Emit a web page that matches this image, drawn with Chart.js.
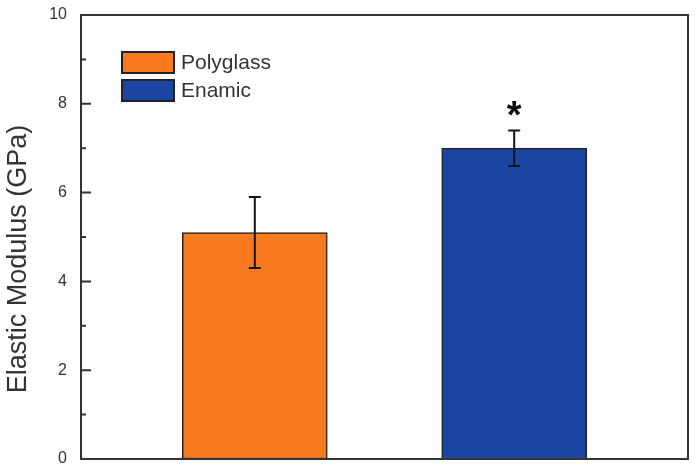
<!DOCTYPE html>
<html><head><meta charset="utf-8">
<script src="https://cdn.jsdelivr.net/npm/chart.js@4"></script>
<style>html,body{margin:0;padding:0;background:#fff}#wrap{width:696px;height:464px}</style>
</head><body><div id="wrap"><canvas id="c" width="696" height="464"></canvas></div>
<script>
const categories = ['Polyglass', 'Enamic'];
const modulus = [5.1, 7.0];
const errors = [0.8, 0.4];
const significance = ['', '*'];
const yTickLabels = [0, 2, 4, 6, 8, 10];
const yMinorTicks = [1, 3, 5, 7, 9];
const barColors = ['#F97A1E', '#1B45A2'];
const axisTitle = 'Elastic Modulus (GPa)';

const FONT = "'Liberation Sans', Arial, sans-serif";
const TEXT = '#333333';

const decor = {
  id: 'decor',
  afterDatasetsDraw(chart) {
    const ctx = chart.ctx, xs = chart.scales.x, ys = chart.scales.y, a = chart.chartArea;
    ctx.save();
    // error bars + significance marks
    ctx.strokeStyle = '#151515'; ctx.lineWidth = 2;
    modulus.forEach((v, i) => {
      const px = xs.getPixelForValue(i + 1);
      const top = ys.getPixelForValue(v + errors[i]);
      const bot = ys.getPixelForValue(v - errors[i]);
      ctx.beginPath();
      ctx.moveTo(px, top); ctx.lineTo(px, bot);
      ctx.moveTo(px - 6, top); ctx.lineTo(px + 6, top);
      ctx.moveTo(px - 6, bot); ctx.lineTo(px + 6, bot);
      ctx.stroke();
      if (significance[i]) {
        ctx.fillStyle = '#111';
        ctx.font = 'bold 38px ' + FONT;
        ctx.textAlign = 'center'; ctx.textBaseline = 'alphabetic';
        const m = ctx.measureText(significance[i]);
        const cy = top - 22;
        ctx.fillText(significance[i], px, cy + (m.actualBoundingBoxAscent - m.actualBoundingBoxDescent) / 2);
      }
    });
    // frame
    ctx.strokeStyle = '#333'; ctx.lineWidth = 2;
    ctx.strokeRect(a.left, a.top, a.right - a.left, a.bottom - a.top);
    // inward ticks on left axis
    ctx.beginPath();
    yTickLabels.forEach(t => { const py = ys.getPixelForValue(t); ctx.moveTo(a.left, py); ctx.lineTo(a.left + 10, py); });
    yMinorTicks.forEach(t => { const py = ys.getPixelForValue(t); ctx.moveTo(a.left, py); ctx.lineTo(a.left + 5, py); });
    ctx.stroke();
    // legend
    ctx.font = '21px ' + FONT; ctx.textAlign = 'left'; ctx.textBaseline = 'middle';
    categories.forEach((c, i) => {
      const bx = a.left + 41, by = a.top + 37 + i * 28;
      ctx.fillStyle = barColors[i]; ctx.fillRect(bx, by, 52, 21);
      ctx.strokeStyle = '#222'; ctx.lineWidth = 2; ctx.strokeRect(bx, by, 52, 21);
      ctx.fillStyle = TEXT; ctx.fillText(c, bx + 59, by + 11);
    });
    // axis title
    ctx.save();
    ctx.translate(19, 259); ctx.rotate(-Math.PI / 2);
    ctx.font = '27px ' + FONT; ctx.fillStyle = TEXT; ctx.textAlign = 'center'; ctx.textBaseline = 'middle';
    ctx.fillText(axisTitle, 0, 0);
    ctx.restore();
    ctx.restore();
  }
};

new Chart(document.getElementById('c'), {
  type: 'bar',
  data: {
    datasets: [{
      label: 'Elastic Modulus',
      data: categories.map((c, i) => ({ x: i + 1, y: modulus[i] })),
      backgroundColor: barColors,
      borderColor: '#222',
      borderWidth: 1.5,
      borderSkipped: false,
      barThickness: 145
    }]
  },
  options: {
    responsive: false,
    animation: false,
    layout: { padding: { top: 15, right: 8, bottom: 5, left: 0 } },
    plugins: { legend: { display: false }, tooltip: { enabled: false } },
    scales: {
      x: { type: 'linear', min: 0.33, max: 2.67, offset: false, display: false },
      y: {
        min: 0, max: 10,
        afterFit(s) { s.width = 81; s.paddingTop = 0; s.paddingBottom = 0; },
        grid: { display: false, drawTicks: false },
        border: { display: false },
        ticks: { stepSize: 2, padding: 14, color: TEXT, font: { family: FONT, size: 16 } }
      }
    }
  },
  plugins: [decor]
});
</script>
</body></html>
